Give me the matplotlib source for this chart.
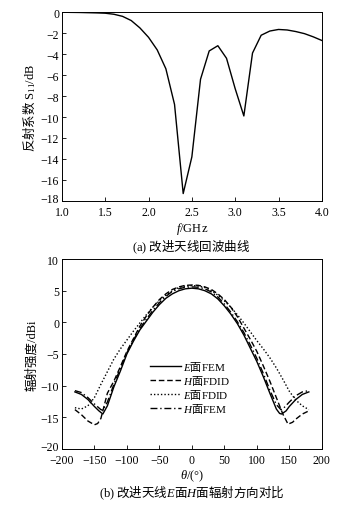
import matplotlib
matplotlib.use("Agg")
import matplotlib.pyplot as plt
import matplotlib.transforms as mtransforms
import numpy as np

plt.rcParams['font.family'] = ['Liberation Serif', 'Noto Sans CJK SC']
plt.rcParams['mathtext.fontset'] = 'custom'
plt.rcParams['mathtext.rm'] = 'Liberation Serif'
plt.rcParams['mathtext.sf'] = 'Liberation Serif'
plt.rcParams['mathtext.it'] = 'Liberation Serif:italic'
plt.rcParams['mathtext.bf'] = 'Liberation Serif:bold'
plt.rcParams['font.size'] = 8.5

CJK = 'Noto Sans CJK SC'

# (a) S11 return loss
freq = [1.0, 1.1, 1.2, 1.3, 1.4, 1.5, 1.6, 1.7, 1.8, 1.9, 2.0, 2.1, 2.2, 2.3, 2.4, 2.5,
        2.6, 2.7, 2.8, 2.9, 3.0, 3.1, 3.2, 3.3, 3.4, 3.5, 3.6, 3.7, 3.8, 3.9, 4.0]
s11 = [0.0, -0.02, -0.03, -0.05, -0.07, -0.1, -0.2, -0.4, -0.8, -1.5, -2.4, -3.6, -5.4, -8.8,
       -17.3, -13.8, -6.4, -3.7, -3.2, -4.4, -7.3, -9.9, -3.9, -2.2, -1.8, -1.65, -1.7,
       -1.85, -2.05, -2.35, -2.7]

# (b) radiation patterns
theta_e_fem = [-180, -170, -160, -150, -143, -137, -130, -120, -110, -100, -90, -80, -70, -60,
               -50, -40, -30, -20, -10, 0, 10, 20, 30, 40, 50, 60, 70, 80, 90, 100, 110, 120,
               130, 135, 138, 145, 150, 160, 170, 180]
e_fem = [-11.0, -11.4, -12.2, -13.3, -14.0, -14.5, -13.2, -10.2, -7.7, -5.0, -3.0, -1.2, 0.2,
         1.6, 2.8, 3.8, 4.5, 5.0, 5.3, 5.4, 5.3, 5.0, 4.5, 3.7, 2.6, 1.3, -0.2, -2.0, -4.1,
         -6.2, -8.6, -11.2, -13.7, -14.4, -14.5, -14.0, -13.3, -12.2, -11.4, -11.0]

theta_h_fdid = [-180, -170, -160, -150, -145, -140, -133, -130, -120, -110, -100, -90, -80, -70,
                -60, -50, -40, -30, -20, -10, 0, 10, 20, 30, 40, 50, 60, 70, 80, 90, 100, 110,
                120, 130, 140, 148, 155, 160, 170, 180]
h_fdid = [-13.8, -14.6, -15.6, -16.2, -16.0, -15.2, -12.4, -11.2, -9.3, -7.0, -4.6, -2.6, -0.6,
          1.0, 2.4, 3.6, 4.5, 5.2, 5.6, 5.85, 5.9, 5.85, 5.6, 5.2, 4.5, 3.6, 2.4, 0.9, -0.9,
          -2.7, -4.6, -6.9, -9.3, -11.9, -14.5, -16.1, -15.8, -15.3, -14.5, -14.0]

theta_e_fdid = [-180, -170, -160, -150, -140, -130, -120, -110, -100, -90, -80, -70, -60, -50,
                -40, -30, -20, -10, 0, 10, 20, 30, 40, 50, 60, 70, 80, 90, 100, 110, 120, 130,
                140, 150, 160, 170, 180]
e_fdid = [-13.5, -13.7, -13.2, -11.9, -9.8, -7.8, -5.8, -4.2, -2.8, -1.4, -0.1, 1.2, 2.4, 3.4,
          4.3, 5.0, 5.5, 5.75, 5.8, 5.75, 5.5, 5.0, 4.3, 3.4, 2.4, 1.2, -0.1, -1.5, -2.9, -4.2,
          -5.6, -7.2, -9.0, -10.9, -12.3, -13.2, -13.8]

theta_h_fem = [-180, -170, -160, -150, -140, -137, -130, -120, -110, -100, -90, -80, -70, -60,
               -50, -40, -30, -20, -10, 0, 10, 20, 30, 40, 50, 60, 70, 80, 90, 100, 110, 120,
               130, 137, 140, 150, 160, 170, 180]
h_fem = [-10.8, -11.1, -11.9, -12.9, -13.8, -13.9, -12.6, -9.8, -7.3, -4.8, -2.8, -1.0, 0.5,
         1.9, 3.1, 4.1, 4.9, 5.3, 5.55, 5.6, 5.55, 5.3, 4.8, 4.0, 2.9, 1.6, 0.1, -1.6, -3.6,
         -5.7, -8.1, -10.7, -13.0, -13.8, -13.7, -12.6, -11.6, -11.0, -10.8]

labels = [r'$E$面$\mathsf{FEM}$', r'$H$面$\mathsf{FDID}$', r'$E$面$\mathsf{FDID}$',
          r'$H$面$\mathsf{FEM}$']


def minus(v):
    return '\u2212' + str(-v) if v < 0 else str(v)


fig = plt.figure(figsize=(3.42, 5.06), dpi=100)

ax1 = fig.add_axes([0.181, 0.601, 0.760, 0.373])
ax1.plot(freq, s11, color='black', lw=1.0)
ax1.set_xlim(1.0, 4.0)
ax1.set_ylim(-18, 0)
ax1.set_xticks(np.arange(1.0, 4.01, 0.5))
ax1.set_xticklabels([f'{v:.1f}' for v in np.arange(1.0, 4.01, 0.5)])
ax1.set_yticks(np.arange(-18, 1, 2))
ax1.set_yticklabels([minus(v) for v in range(-18, 1, 2)])
ax1.set_xlabel(r'$f\mathsf{/GHz}$', labelpad=1, fontsize=9)
ax1.set_ylabel(r'反射系数 $\mathsf{S_{11}/dB}$', labelpad=2, fontsize=9, family=CJK)
fig.text(0.56, 0.512, r'$\mathsf{(a)}$ 改进天线回波曲线', ha='center', va='center',
         fontsize=9, family=CJK)

ax2 = fig.add_axes([0.181, 0.111, 0.760, 0.375])
ax2.plot(theta_e_fem, e_fem, color='black', lw=1.0, ls='-', label=labels[0])
ax2.plot(theta_h_fdid, h_fdid, color='black', lw=1.0, ls=(0, (4, 2)), label=labels[1])
ax2.plot(theta_e_fdid, e_fdid, color='black', lw=1.0, ls=(0, (1, 1.5)), label=labels[2])
ax2.plot(theta_h_fem, h_fem, color='black', lw=1.0, ls=(0, (5, 2, 1, 2)), label=labels[3])
ax2.set_xlim(-200, 200)
ax2.set_ylim(-20, 10)
ax2.set_xticks(np.arange(-200, 201, 50))
ax2.set_xticklabels([minus(v) for v in range(-200, 201, 50)])
ax2.set_yticks(np.arange(-20, 11, 5))
ax2.set_yticklabels([minus(v) for v in range(-20, 11, 5)])
ax2.set_xlabel(r'$\theta\mathsf{/(°)}$', labelpad=1, fontsize=9)
ax2.set_ylabel('辐射强度/dBi', labelpad=2, fontsize=9)
ax2.legend(loc='upper left', bbox_to_anchor=(0.32, 0.495), frameon=False, handlelength=2.8,
           labelspacing=0.0, handletextpad=0.2, borderaxespad=0.0,
           prop={'family': CJK, 'size': 8})
fig.text(0.56, 0.026, r'$\mathsf{(b)}$ 改进天线$E$面$H$面辐射方向对比', ha='center', va='center',
         fontsize=9, family=CJK)

for ax in (ax1, ax2):
    ax.tick_params(direction='in', length=3, width=0.6, top=False, right=False, pad=2)
    ax.tick_params(axis='x', pad=4)
    for s in ax.spines.values():
        s.set_linewidth(0.7)

# nudge the lowest y tick labels up slightly so they clear the x tick labels
shift = mtransforms.ScaledTranslation(0, 0.03, fig.dpi_scale_trans)
for ax in (ax1, ax2):
    lbl = ax.get_yticklabels()[0]
    lbl.set_transform(lbl.get_transform() + shift)

fig.savefig('out.png', dpi=100)
